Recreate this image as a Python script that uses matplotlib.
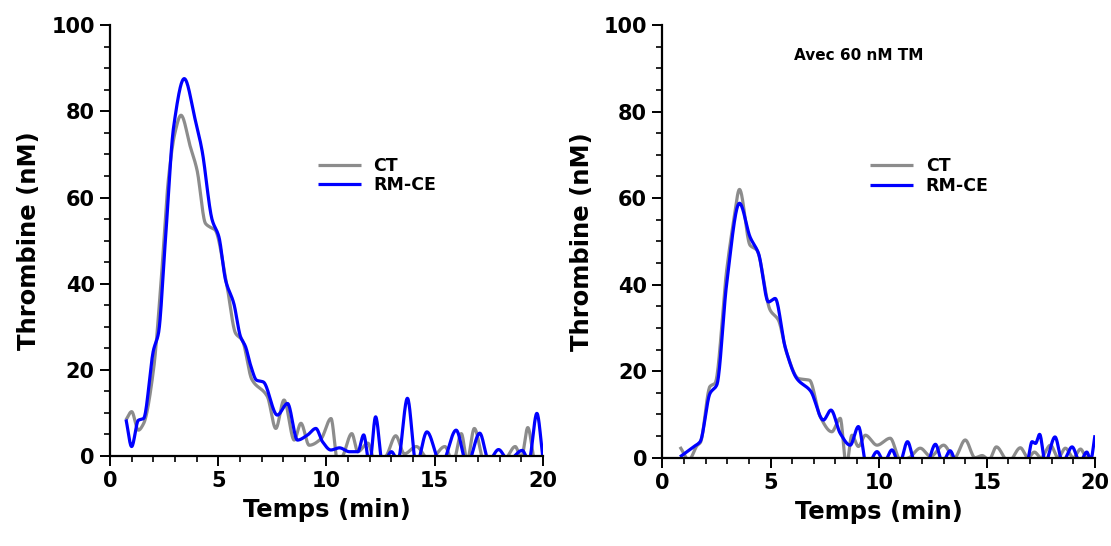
import numpy as np
import matplotlib
matplotlib.use("Agg")
import matplotlib.pyplot as plt
from matplotlib.ticker import MultipleLocator

plt.rcParams['font.family'] = ['DejaVu Sans']
plt.rcParams['font.weight'] = 'bold'

# ---------------- data ----------------
# Left panel (sans TM)
left_ct_t = [0.74, 1.0, 1.31, 1.55, 2.01, 2.32, 2.71, 3.0, 3.28, 3.71, 4.02, 4.41, 4.6, 4.85,
             5.41, 5.8, 6.11, 6.55, 7.27, 7.66, 8.04, 8.51, 8.82, 9.2, 9.75, 10.21, 10.52, 10.75,
             11.17, 11.45, 11.91, 12.25, 12.75, 13.2, 13.6, 14.15, 14.75, 15.47, 15.85, 16.23,
             16.5, 16.83, 17.3, 18.2, 18.72, 19.0, 19.3, 19.65, 20.0]
left_ct_v = [8.4, 10.3, 6.0, 7.5, 20.0, 37.8, 64.8, 75.0, 79.1, 71.8, 66.4, 54.0, 53.2, 52.5,
             39.3, 28.5, 26.9, 17.8, 13.8, 6.4, 13.0, 3.7, 7.6, 2.5, 4.0, 8.7, -1.5, 0.0,
             5.2, 1.0, 3.0, -1.5, 0.0, 4.7, 0.5, 2.2, -1.0, 2.2, -1.5, 5.2,
             -1.0, 6.4, -1.5, -1.0, 2.2, -0.5, 6.6, -1.5, -2.0]

left_rm_t = [0.74, 1.0, 1.31, 1.55, 2.01, 2.24, 2.55, 2.94, 3.43, 3.94, 4.25, 4.72, 5.03, 5.34,
             5.72, 6.03, 6.26, 6.5, 6.77, 7.08, 7.73, 8.2, 8.66, 9.13, 9.51, 9.82, 10.2, 10.6,
             11.06, 11.45, 11.72, 11.99, 12.27, 12.6, 13.0, 13.3, 13.74, 14.15, 14.64, 15.3,
             15.99, 16.5, 17.08, 17.5, 17.95, 18.4, 19.04, 19.35, 19.72, 20.0]
left_rm_v = [8.5, 2.2, 8.3, 8.7, 24.6, 28.5, 49.4, 76.4, 87.6, 78.0, 71.0, 54.8, 50.9, 40.8,
             35.4, 27.7, 25.4, 21.0, 17.6, 17.2, 9.5, 12.2, 3.7, 4.9, 6.4, 3.3, 1.4, 1.9,
             1.0, 1.0, 4.9, -2.0, 9.1, -2.0, 1.0, -1.0, 13.4, -2.0, 5.6, -2.0,
             6.0, -2.0, 5.3, -1.0, 1.5, -1.0, 1.3, -1.0, 9.9, -0.5]

# Right panel (avec 60 nM TM)
right_ct_t = [0.81, 1.22, 1.6, 1.75, 2.2, 2.43, 2.97, 3.3, 3.56, 4.05, 4.36, 4.98, 5.36, 5.75,
              6.29, 6.8, 7.29, 7.83, 8.22, 8.5, 8.76, 9.06, 9.38, 9.92, 10.53, 11.0, 11.4,
              11.92, 12.4, 13.0, 13.5, 14.0, 14.45, 14.78, 15.1, 15.44, 16.0, 16.55, 16.9,
              17.2, 17.5, 17.94, 18.3, 18.63, 19.0, 19.33, 19.6, 20.0]
right_ct_v = [2.5, -0.5, 2.8, 3.5, 16.5, 17.2, 43.4, 55.0, 62.0, 49.1, 48.0, 34.1, 31.8, 24.1,
              18.3, 17.9, 9.5, 6.0, 9.1, -2.0, 5.2, 2.6, 5.2, 2.9, 4.5, -0.5, 0.0,
              2.2, 0.3, 2.9, 0.0, 4.1, 0.0, 0.5, -0.5, 2.5, -1.0, 2.3, 0.0,
              1.3, 0.0, 2.9, 0.0, 2.2, 0.0, 2.0, 0.0, -0.5]

right_rm_t = [0.81, 1.43, 1.74, 2.2, 2.51, 2.97, 3.56, 4.05, 4.44, 4.9, 5.21, 5.67, 6.21, 6.85,
              7.44, 7.79, 8.22, 8.68, 9.06, 9.45, 9.92, 10.25, 10.61, 10.95, 11.33, 11.7,
              12.2, 12.62, 12.95, 13.3, 13.6, 16.85, 17.09, 17.25, 17.44, 17.7, 18.15, 18.5,
              18.94, 19.3, 19.62, 19.8, 20.0]
right_rm_v = [0.2, 2.5, 3.7, 14.9, 16.8, 40.3, 58.8, 51.0, 47.2, 36.0, 36.8, 25.6, 18.3, 15.4,
              8.7, 11.0, 5.6, 2.9, 7.2, -2.0, 1.4, -1.0, 1.8, -1.5, 3.7, -1.5,
              -1.5, 3.1, -1.0, 1.6, -1.0, -1.0, 3.7, 3.3, 5.4, -1.0, 4.8, -1.0,
              2.5, -1.0, 1.3, -0.5, 5.2]

series_labels = ["CT", "RM-CE"]
series_colors = ["#8c8c8c", "#0000ff"]
panel_note = "Avec 60 nM TM"
x_label = "Temps (min)"
y_label = "Thrombine (nM)"


def smooth(t, v, n=1200):
    """Monotone cubic (PCHIP) curve through the read points, for drawing."""
    x = np.asarray(t, float)
    y = np.asarray(v, float)
    h = np.diff(x)
    d = np.diff(y) / h
    m = np.zeros_like(y)
    for k in range(1, len(x) - 1):
        if d[k - 1] * d[k] > 0:
            w1 = 2 * h[k] + h[k - 1]
            w2 = h[k] + 2 * h[k - 1]
            m[k] = (w1 + w2) / (w1 / d[k - 1] + w2 / d[k])
    m[0] = d[0]
    m[-1] = d[-1]
    xn = np.linspace(x[0], x[-1], n)
    idx = np.clip(np.searchsorted(x, xn) - 1, 0, len(x) - 2)
    hh = h[idx]
    s = (xn - x[idx]) / hh
    h00 = 2 * s**3 - 3 * s**2 + 1
    h10 = s**3 - 2 * s**2 + s
    h01 = -2 * s**3 + 3 * s**2
    h11 = s**3 - s**2
    yn = h00 * y[idx] + h10 * hh * m[idx] + h01 * y[idx + 1] + h11 * hh * m[idx + 1]
    return xn, yn


fig = plt.figure(figsize=(11.11, 5.46), dpi=100)
ax1 = fig.add_axes([0.099, 0.1648, 0.3897, 0.789])
ax2 = fig.add_axes([0.5963, 0.1617, 0.3893, 0.7925])

panels = [
    (ax1, [(left_ct_t, left_ct_v), (left_rm_t, left_rm_v)]),
    (ax2, [(right_ct_t, right_ct_v), (right_rm_t, right_rm_v)]),
]

for ax, series in panels:
    for (t, v), lab, col in zip(series, series_labels, series_colors):
        xs, ys = smooth(t, v)
        ax.plot(xs, ys, color=col, lw=2.3, label=lab, solid_capstyle='butt')
    ax.set_xlim(0, 20)
    ax.set_ylim(0, 100)
    ax.spines['top'].set_visible(False)
    ax.spines['right'].set_visible(False)
    for sp in ('left', 'bottom'):
        ax.spines[sp].set_linewidth(1.6)
    ax.xaxis.set_major_locator(MultipleLocator(5))
    ax.xaxis.set_minor_locator(MultipleLocator(1))
    ax.yaxis.set_major_locator(MultipleLocator(20))
    ax.yaxis.set_minor_locator(MultipleLocator(5))
    ax.tick_params(which='major', direction='out', length=7, width=1.4, labelsize=15, pad=4)
    ax.tick_params(which='minor', direction='out', length=4, width=1.2)
    for lbl in ax.get_xticklabels() + ax.get_yticklabels():
        lbl.set_fontweight('bold')
    ax.set_xlabel(x_label, fontsize=17.5, fontweight='bold', labelpad=5)
    ax.set_ylabel(y_label, fontsize=17.5, fontweight='bold', labelpad=7)
    leg = ax.legend(loc='upper left', bbox_to_anchor=(0.48, 0.695), frameon=False,
                    handlelength=2.5, handletextpad=0.7, labelspacing=0.1,
                    borderpad=0, borderaxespad=0,
                    prop={'size': 12.5, 'weight': 'bold'})
    for line in leg.get_lines():
        line.set_linewidth(2.3)

ax2.text(9.05, 93, panel_note, ha='center', va='center', fontsize=11, fontweight='bold')

fig.savefig("out.png", dpi=100)
